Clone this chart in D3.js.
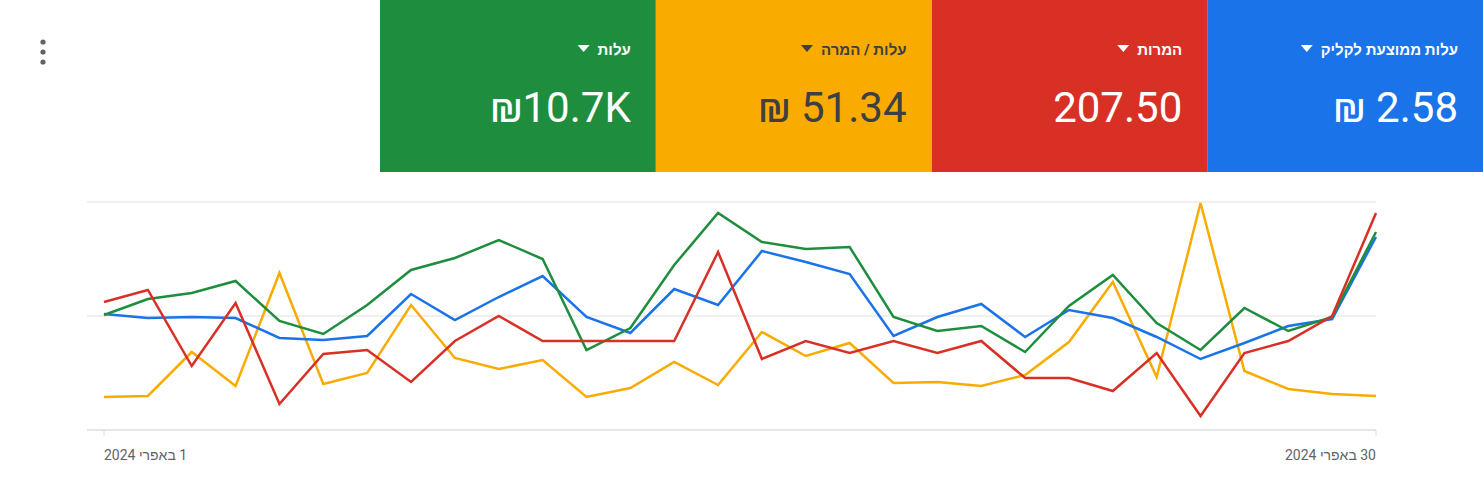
<!DOCTYPE html><html><head><meta charset="utf-8"><script src="https://cdn.jsdelivr.net/npm/d3@7"></script>
<style>body{margin:0;background:#fff;font-family:Roboto,"Noto Sans",sans-serif}</style></head><body><svg id="c" width="1483" height="485"></svg>
<script>
const days=d3.range(1,31);
const tileLabels=["עלות ממוצעת לקליק","המרות","עלות / המרה","עלות"];
const tileValues=["₪ 2.58","207.50","₪ 51.34","₪10.7K"];
const tileColors=["#1a73e8","#d93025","#f9ab00","#1e8e3e"];
const tileText=["#fff","#fff","#3c4043","#fff"];
const blue=[314,318,317,318,338,340,336,294,320,297,276,317,333,289,305,251,262,274,336,317,304,337,310,318,337,359,343,326,319,237].map(v=>430-v);
const green=[315,299,293,281,321,334,305,270,258,240,259,350,328,265,213,242,249,247,317,331,326,352,306,275,323,350,308,331,317,232].map(v=>430-v);
const red=[302,290,366,303,404,354,350,382,341,316,341,341,341,341,252,359,341,353,341,353,341,378,378,391,353,416,353,341,316,213].map(v=>430-v);
const yellow=[397,396,352,386,273,384,373,305,358,369,360,397,388,362,385,332,356,343,383,382,386,375,342,282,377,203,371,389,394,396].map(v=>430-v);
const xLabels=["1 באפרי 2024","30 באפרי 2024"];
const svg=d3.select("#c");
const tx=d3.scaleBand().domain([3,2,1,0]).range([380,1483]);
tileLabels.forEach((l,i)=>{
 const x0=tx(i),w=tx.bandwidth(),r=x0+w-25;
 svg.append("rect").attr("x",x0).attr("y",0).attr("width",w).attr("height",172).attr("fill",tileColors[i]);
 const t=svg.append("text").attr("x",r).attr("y",55).attr("text-anchor","start").attr("direction","rtl").attr("fill",tileText[i]).attr("font-size",15).attr("font-weight",700).text(l);
 const bw=t.node().getComputedTextLength();
 svg.append("path").attr("d",`M${r-bw-20},45 l12,0 l-6,7z`).attr("fill",tileText[i]);
 svg.append("text").attr("x",r).attr("y",122).attr("text-anchor","end").attr("fill",tileText[i]).attr("font-size",42).text(tileValues[i]);
});
[42,52,62].forEach(y=>svg.append("circle").attr("cx",43).attr("cy",y).attr("r",2.6).attr("fill","#5f6368"));
const x=d3.scaleLinear().domain([1,30]).range([104,1376]);
const y=d3.scaleLinear().domain([0,228]).range([430,202]);
[0,114,228].forEach(v=>svg.append("line").attr("x1",87).attr("x2",1376).attr("y1",y(v)).attr("y2",y(v)).attr("stroke","#e0e0e0"));
svg.append("line").attr("x1",87).attr("x2",1376).attr("y1",430).attr("y2",430).attr("stroke","#dadce0");
[1,30].forEach(d=>svg.append("line").attr("x1",x(d)).attr("x2",x(d)).attr("y1",430).attr("y2",436).attr("stroke","#dadce0"));
const line=d3.line().x((d,i)=>x(days[i])).y(d=>y(d));
[[yellow,"#f9ab00"],[blue,"#1a73e8"],[green,"#1e8e3e"],[red,"#d93025"]].forEach(([s,c])=>svg.append("path").attr("d",line(s)).attr("fill","none").attr("stroke",c).attr("stroke-width",2.5));
svg.append("text").attr("x",x(1)).attr("y",460).attr("direction","rtl").attr("text-anchor","end").attr("fill","#5f6368").attr("font-size",14).text(xLabels[0]);
svg.append("text").attr("x",x(30)).attr("y",460).attr("direction","rtl").attr("text-anchor","start").attr("fill","#5f6368").attr("font-size",14).text(xLabels[1]);
</script></body></html>
